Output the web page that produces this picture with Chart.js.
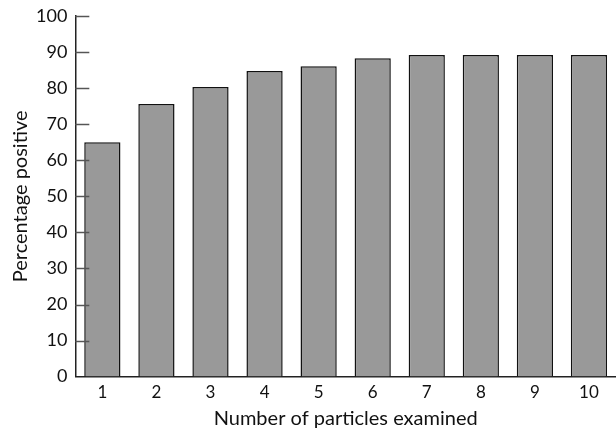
<!DOCTYPE html>
<html>
<head>
<meta charset="utf-8">
<script src="https://cdn.jsdelivr.net/npm/chart.js@4/dist/chart.umd.min.js"></script>
<style>
  html, body { margin: 0; padding: 0; background: #fff; }
  #wrap { width: 616px; height: 430px; }
</style>
</head>
<body>
<div id="wrap"><canvas id="grafico"></canvas></div>
<script>
// datos
let particulas = ['1', '2', '3', '4', '5', '6', '7', '8', '9', '10'];
let porcentaje = [65.0, 75.6, 80.3, 84.8, 86.1, 88.3, 89.2, 89.2, 89.2, 89.2];
let ticksY = [0, 10, 20, 30, 40, 50, 60, 70, 80, 90, 100];

let fuente = "'Lato', 'Open Sans', sans-serif";

// marcas del eje Y hacia dentro del area
let marcasDentro = {
    id: 'marcasDentro',
    afterDraw(chart) {
        let ctx = chart.ctx;
        let y = chart.scales.y;
        ctx.save();
        ctx.strokeStyle = '#555';
        ctx.lineWidth = 1.5;
        ticksY.forEach(v => {
            if (v === 0) return;
            let py = Math.round(y.getPixelForValue(v)) + 0.5;
            ctx.beginPath();
            ctx.moveTo(y.right, py);
            ctx.lineTo(y.right + 14, py);
            ctx.stroke();
        });
        ctx.restore();
    }
};

let datos = {
    labels: particulas,
    datasets: [{
        data: porcentaje,
        backgroundColor: '#999999',
        borderColor: '#111111',
        borderWidth: 1.5,
        borderSkipped: 'bottom',
        barPercentage: 0.67,
        categoryPercentage: 1.0
    }]
};

let opciones = {
    responsive: true,
    maintainAspectRatio: false,
    animation: false,
    layout: { padding: { top: 0, right: 0, left: 11, bottom: 1 } },
    plugins: {
        legend: { display: false },
        tooltip: { enabled: false }
    },
    scales: {
        x: {
            grid: { display: false, drawTicks: false },
            border: { display: true, color: '#222', width: 1.5 },
            ticks: { color: '#111', font: { family: fuente, size: 17 }, padding: 6 },
            title: {
                display: true,
                text: 'Number of particles examined',
                color: '#111',
                font: { family: fuente, size: 20, lineHeight: 1.0 },
                padding: { top: 0, bottom: 0 }
            }
        },
        y: {
            min: 0,
            max: 100,
            afterBuildTicks(scale) {
                scale.ticks = ticksY.map(v => ({ value: v }));
            },
            grid: { display: false, drawTicks: false },
            border: { display: true, color: '#222', width: 1.5 },
            ticks: { color: '#111', font: { family: fuente, size: 18, lineHeight: 0.9 }, padding: 8 },
            title: {
                display: true,
                text: 'Percentage positive',
                color: '#111',
                font: { family: fuente, size: 20, lineHeight: 1.0 },
                padding: { top: 0, bottom: -3 }
            }
        }
    }
};

let canvasG = document.getElementById('grafico').getContext('2d');
let G = new Chart(canvasG, {
    type: 'bar',
    data: datos,
    options: opciones,
    plugins: [marcasDentro]
});
</script>
</body>
</html>
